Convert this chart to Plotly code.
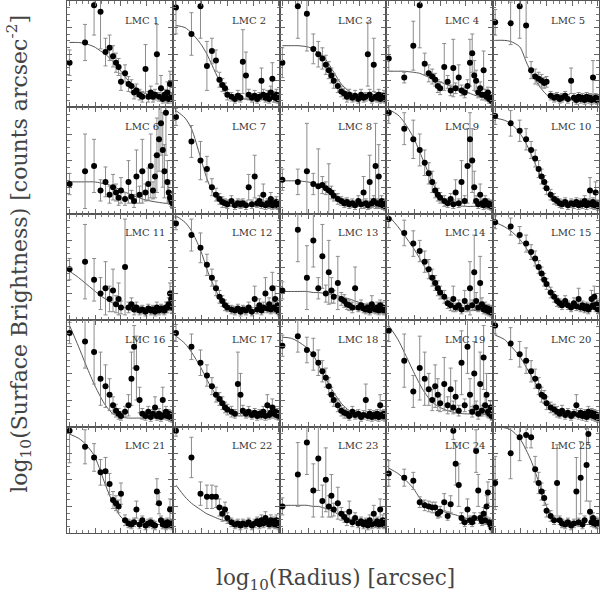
import plotly.graph_objects as go
from plotly.subplots import make_subplots

# Shared radial bins (arcsec) and model-curve sample radii
RADIUS = [1, 2, 3, 4, 5, 6, 7, 8, 9, 10, 12, 14, 16, 18, 20, 23, 26, 30, 34, 38,
          42, 46, 50, 55, 60, 65, 70, 75, 80, 85, 90, 95, 100]
FIT_RADIUS = [1, 1.5, 2, 3, 4, 5, 7, 10, 14, 20, 30, 50, 100]

# Surface brightness (relative log units), errors and fitted profile per cluster
P1_Y = [42,61,96,90,52,56,48,42,38,24,32,22,20,14,16,12,10,36,10,14,10,12,50,10,18,8,12,9,14,8,22,10,8]
P1_E = [12,17,28,35,13,12,10,9,8,8,8,7,6,6,6,5,5,23,5,6,5,5,28,4,12,4,5,4,10,4,12,4,4]
P1_F = [61,61,60,57,53,50,43,34,25,18,13,10,8]

P2_Y = [94,69,95,39,53,44,26,21,18,12,10,8,11,9,43,30,12,9,11,8,10,25,12,9,11,8,14,27,10,9,12,8,10]
P2_E = [25,20,30,23,12,10,7,6,5,5,4,4,5,4,30,22,5,4,5,4,4,12,5,4,5,4,6,15,5,4,5,4,4]
P2_F = [77,75,70,60,50,40,25,13,9,8,7.5,7.5,7.5]

P3_Y = [42,95,88,55,50,46,40,35,30,25,20,15,13,10,12,9,11,8,12,9,10,50,12,8,40,10,9,12,8,10,9,11,8]
P3_E = [14,30,35,14,12,10,9,8,7,7,6,5,5,5,5,4,5,4,5,4,4,30,5,4,25,4,4,5,4,4,4,5,4]
P3_F = [58,58,58,57,55,51,45,33,22,15,11,10,9]

P4_Y = [46,28,58,96,41,32,29,26,20,18,38,24,16,37,18,28,16,14,20,42,51,30,25,14,18,12,35,12,10,14,8,10,6]
P4_E = [12,5,23,40,10,8,7,6,6,6,22,6,5,27,5,12,5,5,6,22,18,14,10,5,6,5,18,5,4,5,4,4,4]
P4_F = [34,34,34,33,32,30,27,24,21,18,15,11,7]

P5_Y = [80,79,95,77,35,29,27,25,23,24,11,9,10,8,9,11,8,25,9,7,10,8,9,7,10,8,9,7,28,8,9,7,8]
P5_E = [12,20,30,30,8,7,6,6,5,5,4,4,4,4,4,4,4,12,4,4,4,4,4,4,4,4,4,4,16,4,4,4,4]
P5_F = [63,63,62,57,43,33,21,12,8,7,7,7,7]

P6_Y = [28,40,45,22,30,18,25,20,15,22,14,30,16,12,35,18,40,20,28,45,22,35,55,70,85,60,40,95,30,20,15,12,10]
P6_E = [10,35,25,10,14,8,12,8,7,12,6,20,6,6,25,8,30,8,15,30,8,20,35,30,30,35,25,40,20,8,6,5,5]
P6_F = [30,30,30,30,29,28,26,22,19,16,13,11,9]

P7_Y = [91,68,50,42,25,18,14,11,10,9,12,8,10,9,10,8,25,9,35,10,12,9,18,8,10,9,14,8,10,9,11,8,8]
P7_E = [8,15,18,12,8,6,5,5,4,4,5,4,4,4,4,4,12,4,20,4,5,4,10,4,4,4,6,4,4,4,5,4,4]
P7_F = [97,90,80,53,33,22,12,8,7,7,7,7,7]

P8_Y = [32,30,40,28,26,27,24,22,20,17,14,12,10,11,9,10,8,12,9,20,10,8,30,10,12,45,10,35,9,12,8,10,7]
P8_E = [10,12,45,10,35,8,6,25,6,5,5,4,4,4,4,4,4,5,4,15,4,4,25,4,5,40,4,30,4,5,4,4,4]
P8_F = [31,31,31,30,29,27,23,18,13,10,8,7,7]

P9_Y = [95,80,70,60,48,38,30,22,18,15,12,10,14,9,20,10,30,12,45,70,50,25,12,9,18,10,8,12,9,10,8,9,7]
P9_E = [10,15,18,15,12,10,10,7,6,5,5,4,5,4,12,4,20,5,35,25,30,15,5,4,10,4,4,5,4,4,4,4,4]
P9_F = [98,93,86,72,58,47,30,16,10,8,7,7,7]

P10_Y = [92,85,78,70,60,52,42,35,30,24,18,14,12,10,9,11,8,10,9,11,8,10,9,12,8,10,22,9,11,8,20,9,7]
P10_E = [8,12,10,10,8,8,8,7,6,6,5,5,4,4,4,4,4,4,4,4,4,4,4,5,4,4,12,4,4,4,10,4,4]
P10_F = [90,88,85,76,66,56,40,25,15,10,8,7,7]

P11_Y = [48,55,38,25,30,20,28,15,20,12,50,12,15,10,12,9,10,8,11,9,10,8,12,9,11,10,9,12,12,15,25,20,12]
P11_E = [10,35,20,15,25,12,20,8,15,6,45,5,6,5,5,4,4,4,4,4,4,4,5,4,4,4,4,5,5,6,10,8,5]
P11_F = [46,40,35,28,23,20,16,13,11,10,9,9,9]

P12_Y = [91,80,68,52,40,30,22,18,14,12,10,9,11,8,10,9,12,8,20,10,14,9,12,25,11,15,10,30,12,20,10,14,8]
P12_E = [6,15,14,10,8,7,6,5,5,4,4,4,4,4,4,4,5,4,12,4,6,4,5,15,4,6,4,15,5,12,4,6,4]
P12_F = [98,92,84,66,48,36,22,13,10,9,9,9,9]

P13_Y = [28,85,40,75,30,60,25,45,28,22,35,20,18,15,14,12,30,12,14,11,10,12,9,15,11,10,12,9,14,10,12,9,10]
P13_E = [8,30,30,25,10,30,8,30,12,6,25,6,6,5,5,5,20,4,5,4,4,4,4,8,4,4,5,4,5,4,5,4,4]
P13_F = [27,27,27,27,26,26,25,24,22,20,17,14,11]

P14_Y = [95,82,72,65,55,48,40,35,30,26,22,16,14,20,12,14,10,18,12,30,14,45,18,12,35,15,10,12,9,11,8,10,7]
P14_E = [8,12,12,10,10,9,8,7,7,6,6,5,5,12,4,5,4,10,4,25,5,35,8,4,25,6,4,5,4,4,4,4,4]
P14_F = [98,88,80,68,58,50,38,27,18,13,10,9,9]

P15_Y = [92,88,80,72,64,58,50,44,38,34,26,22,18,16,14,18,14,12,16,13,20,12,14,11,13,10,12,20,14,22,12,15,10]
P15_E = [6,8,8,8,7,7,6,6,6,5,5,5,5,4,4,5,4,4,5,4,10,4,4,4,4,4,4,8,4,10,4,5,4]
P15_F = [92,88,84,76,68,60,48,36,25,18,15,13,12]

P16_Y = [88,80,70,45,38,30,20,15,12,10,14,20,45,75,55,25,12,10,14,9,12,18,10,12,9,25,11,14,10,12,9,11,8]
P16_E = [10,25,30,25,20,15,8,6,5,4,5,10,25,20,30,12,5,4,5,4,4,10,4,5,4,12,4,5,4,4,4,4,4]
P16_F = [95,75,60,40,28,20,12,9,8,8,8,8,8]

P17_Y = [88,75,60,48,38,30,26,22,18,16,14,12,40,30,15,12,14,11,13,10,12,11,14,10,20,11,13,18,12,14,11,13,10]
P17_E = [8,12,12,10,8,7,6,6,5,5,5,4,30,20,5,4,5,4,4,4,4,4,5,4,10,4,5,8,4,5,4,4,4]
P17_F = [85,78,70,56,44,36,25,17,13,12,11,11,11]

P18_Y = [76,85,72,68,60,52,46,38,30,25,20,15,13,12,10,14,11,12,9,11,25,10,12,9,11,10,12,9,20,11,10,12,9]
P18_E = [10,15,12,15,12,10,9,8,7,6,6,5,5,4,4,5,4,4,4,4,15,4,4,4,4,4,4,4,10,4,4,4,4]
P18_F = [84,83,80,74,67,58,45,32,22,15,12,11,10]

P19_Y = [90,62,33,55,45,35,25,38,30,22,40,20,35,18,28,15,60,20,75,30,14,50,18,12,40,15,65,20,30,14,12,18,10]
P19_E = [10,25,15,30,25,15,10,20,15,8,25,8,20,6,15,5,30,6,25,15,5,30,6,5,30,5,30,8,20,5,4,6,4]
P19_F = [95,82,70,52,40,32,23,18,15,13,12,12,11]

P20_Y = [95,78,68,62,52,45,38,30,28,22,18,16,14,12,15,11,13,10,12,20,11,13,10,12,9,14,11,13,10,12,9,11,8]
P20_E = [8,15,12,12,10,9,8,7,6,6,5,5,5,4,5,4,4,4,4,10,4,4,4,4,4,5,4,4,4,4,4,4,4]
P20_F = [86,82,76,66,56,48,36,25,17,13,11,10,10]

P21_Y = [96,81,71,57,58,46,31,28,25,37,12,9,8,10,22,8,12,7,9,10,8,7,39,28,12,8,9,7,10,8,22,9,7]
P21_E = [30,16,13,12,13,10,8,7,6,10,5,4,4,4,8,4,4,4,4,4,4,4,12,10,4,4,4,4,4,4,10,4,4]
P21_F = [93,89,84,73,58,45,28,15,10,8,8,8,8]

P22_Y = [96,71,37,34,34,34,24,18,22,14,10,8,9,7,9,8,10,7,9,11,8,12,9,14,10,8,12,9,11,8,12,9,7]
P22_E = [5,19,11,11,11,10,8,7,7,5,4,4,4,4,4,4,4,4,4,4,4,5,4,6,4,4,5,4,4,4,5,4,4]
P22_F = [45,34,28,22,18,16,13,11,10,9,9,9,9]

P23_Y = [25,55,85,40,70,30,50,25,35,22,28,18,15,12,20,10,14,9,11,8,10,7,12,8,18,9,11,8,22,9,12,8,9]
P23_E = [8,30,30,25,30,15,30,10,20,6,15,6,5,5,10,4,5,4,4,4,4,4,5,4,8,4,4,4,10,4,5,4,4]
P23_F = [26,26,26,26,25,25,23,20,16,13,10,9,8]

P24_Y = [56,52,49,29,26,25,24,24,18,20,29,16,27,96,65,45,14,10,22,12,10,14,77,40,14,11,18,12,25,38,10,8,5]
P24_E = [12,8,8,5,5,5,5,5,4,5,8,4,8,8,20,20,5,4,10,4,4,5,20,15,5,4,6,4,10,10,4,4,4]
P24_F = [61,56,51,42,33,29,24,21,19,17,14,12,8]

P25_Y = [47,75,90,92,90,60,47,39,33,21,16,12,47,12,9,8,10,7,9,39,10,52,8,12,64,93,20,10,14,9,11,8,10]
P25_E = [25,24,22,12,10,12,10,8,7,6,5,4,36,4,4,4,4,4,4,32,4,34,4,4,34,10,10,4,5,4,4,4,4]
P25_F = [100,99,97,89,78,68,48,25,13,9,8,8,8]

LABELS = [f"LMC {i}" for i in range(1, 26)]
PANELS = [
    (P1_Y, P1_E, P1_F), (P2_Y, P2_E, P2_F), (P3_Y, P3_E, P3_F), (P4_Y, P4_E, P4_F), (P5_Y, P5_E, P5_F),
    (P6_Y, P6_E, P6_F), (P7_Y, P7_E, P7_F), (P8_Y, P8_E, P8_F), (P9_Y, P9_E, P9_F), (P10_Y, P10_E, P10_F),
    (P11_Y, P11_E, P11_F), (P12_Y, P12_E, P12_F), (P13_Y, P13_E, P13_F), (P14_Y, P14_E, P14_F), (P15_Y, P15_E, P15_F),
    (P16_Y, P16_E, P16_F), (P17_Y, P17_E, P17_F), (P18_Y, P18_E, P18_F), (P19_Y, P19_E, P19_F), (P20_Y, P20_E, P20_F),
    (P21_Y, P21_E, P21_F), (P22_Y, P22_E, P22_F), (P23_Y, P23_E, P23_F), (P24_Y, P24_E, P24_F), (P25_Y, P25_E, P25_F),
]

fig = make_subplots(rows=5, cols=5, horizontal_spacing=0, vertical_spacing=0)

for k, (ys, es, fit) in enumerate(PANELS):
    r, c = k // 5 + 1, k % 5 + 1
    fig.add_trace(go.Scatter(x=FIT_RADIUS, y=fit, mode="lines",
                             line=dict(color="#555555", width=1, shape="spline", smoothing=0.8),
                             hoverinfo="skip"), row=r, col=c)
    fig.add_trace(go.Scatter(x=RADIUS, y=ys, mode="markers",
                             marker=dict(color="black", size=6),
                             error_y=dict(type="data", array=es, color="#8c8c8c",
                                          thickness=1, width=2)), row=r, col=c)
    ax = "" if k == 0 else str(k + 1)
    fig.add_annotation(text=LABELS[k], xref=f"x{ax} domain", yref=f"y{ax} domain",
                       x=0.53, y=0.82, xanchor="left", yanchor="middle", showarrow=False,
                       font=dict(family="DejaVu Serif", size=10, color="#333333"))

fig.update_xaxes(type="log", range=[-0.05, 2.02], showticklabels=False, showgrid=False,
                 zeroline=False, showline=True, linecolor="#555555", linewidth=1,
                 mirror="allticks", ticks="inside", ticklen=5, tickcolor="#666666",
                 tick0=0, dtick=0.5,
                 minor=dict(ticks="inside", ticklen=3, tickcolor="#777777", dtick=0.125, showgrid=False))
fig.update_yaxes(range=[0, 100], showticklabels=False, showgrid=False,
                 zeroline=False, showline=True, linecolor="#555555", linewidth=1,
                 mirror="allticks", ticks="inside", ticklen=5, tickcolor="#666666",
                 tick0=0, dtick=25,
                 minor=dict(ticks="inside", ticklen=3, tickcolor="#777777", dtick=6.25, showgrid=False))

fig.add_annotation(text="log<sub>10</sub>(Radius) [arcsec]", xref="paper", yref="paper",
                   x=0.504, y=-0.088, xanchor="center", yanchor="middle", showarrow=False,
                   font=dict(family="DejaVu Serif", size=21.5, color="#444444"))
fig.add_annotation(text="log<sub>10</sub>(Surface Brightness) [counts arcsec<sup>-2</sup>]",
                   xref="paper", yref="paper", x=-0.09, y=0.525, textangle=-90,
                   xanchor="center", yanchor="middle", showarrow=False,
                   font=dict(family="DejaVu Serif", size=22, color="#444444"))

fig.update_layout(width=600, height=600, showlegend=False,
                  paper_bgcolor="white", plot_bgcolor="white",
                  margin=dict(l=67, r=1, t=1, b=67))

fig.write_html("out.html", config={"displayModeBar": False},
               post_script="document.body.style.margin='0';document.body.style.overflow='hidden';")
